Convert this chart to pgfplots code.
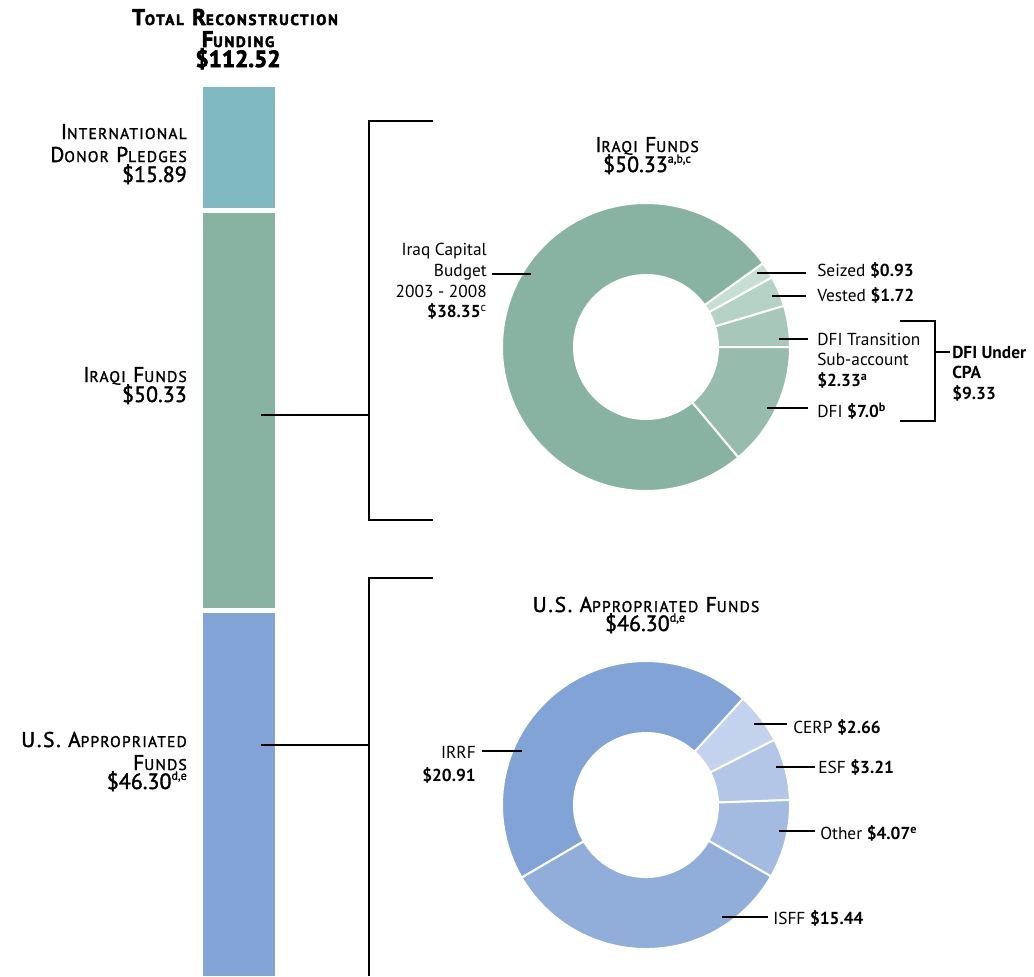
\documentclass[border=0pt]{standalone}
\usepackage{pgfplots}
\pgfplotsset{compat=1.18}
\usepackage{pgfplotstable}
\usepackage{fontspec}
\setmainfont{PT Sans}
\newfontfamily\titlefont{PT Sans}[LetterSpace=8, FakeBold=1.6]
\newfontfamily\amtfont{PT Sans}[FakeBold=1.6]
\newfontfamily\heavyfont{PT Sans}[LetterSpace=12, BoldFeatures={FakeBold=3}]
\newfontfamily\heavyamt{PT Sans}[BoldFeatures={FakeBold=3}]

\definecolor{cIntl}{RGB}{129,185,193}
\definecolor{cIraq}{RGB}{136,179,162}
\definecolor{cUS}{RGB}{130,163,214}
\definecolor{cDFI}{RGB}{151,188,174}
\definecolor{cDFIT}{RGB}{166,199,186}
\definecolor{cVest}{RGB}{181,210,198}
\definecolor{cSeiz}{RGB}{198,222,211}
\definecolor{cISFF}{RGB}{145,173,218}
\definecolor{cOther}{RGB}{163,186,225}
\definecolor{cESF}{RGB}{179,198,231}
\definecolor{cCERP}{RGB}{196,211,237}

% Iraqi funds (billions $), counter-clockwise from 0 deg
\pgfplotstableread{
value color
2.33 cDFIT
1.72 cVest
0.93 cSeiz
38.35 cIraq
7.0 cDFI
}\iraqitab
% U.S. appropriated funds
\pgfplotstableread{
value color
3.21 cESF
2.66 cCERP
20.91 cUS
15.44 cISFF
4.07 cOther
}\ustab

\newcommand\donut[4]{%
  \pgfplotstablegetrowsof{#1}%
  \pgfmathtruncatemacro\nr{\pgfplotsretval-1}%
  \def\tot{0}%
  \pgfplotsforeachungrouped \i in {0,...,\nr}{%
    \pgfplotstablegetelem{\i}{value}\of{#1}%
    \pgfmathsetmacro\tot{\tot+\pgfplotsretval}}%
  \def\acc{0}%
  \pgfplotsforeachungrouped \i in {0,...,\nr}{%
    \pgfplotstablegetelem{\i}{value}\of{#1}\let\val\pgfplotsretval
    \pgfplotstablegetelem{\i}{color}\of{#1}\let\col\pgfplotsretval
    \pgfmathsetmacro\aA{#4+\acc/\tot*360}%
    \pgfmathsetmacro\acc{\acc+\val}%
    \pgfmathsetmacro\aB{#4+\acc/\tot*360}%
    \edef\tmp{\noexpand\fill[fill=\col,draw=white,line width=1.5pt] (axis cs:#2,#3) ++(\aA:108pt) arc[start angle=\aA,end angle=\aB,radius=108pt] -- ++(\aB:-54pt) arc[start angle=\aB,end angle=\aA,radius=54pt] -- cycle;}%
    \tmp}}

\newcommand\lbl{\fontsize{13}{15.75}\selectfont}
\newcommand\ttl{\titlefont\fontsize{16}{19}\selectfont}
\newcommand\amt{\amtfont\fontsize{16.5}{19}\selectfont}
\newcommand\smc[1]{{\fontsize{11.6}{14}\selectfont #1}}
\newcommand\smcb[1]{{\fontsize{11.2}{13}\selectfont #1}}
\newcommand\sups[1]{\raisebox{0.42em}{\fontsize{9}{9}\selectfont #1}}

\begin{document}
\begin{tikzpicture}
% left stacked bar
\begin{axis}[name=bar, at={(0,0)}, anchor=south west, scale only axis,
  width=775.5pt, height=732pt, xmin=0, xmax=1034, ymin=-10.566, ymax=112.2,
  y dir=reverse, hide axis, ybar stacked, bar width=77]
\addplot[fill=cIntl, draw=white, line width=3.75pt] coordinates {(239,15.89)};
\addplot[fill=cIraq, draw=white, line width=3.75pt] coordinates {(239,50.33)};
\addplot[fill=cUS, draw=white, line width=3.75pt] coordinates {(239,46.30)};
\end{axis}
\begin{axis}[name=main, at={(0,0)}, anchor=south west, scale only axis,
  width=775.5pt, height=732pt, xmin=0, xmax=1034, ymin=0, ymax=976,
  y dir=reverse, hide axis, clip=false]
\donut{\iraqitab}{646}{347}{0}
\donut{\ustab}{646}{805}{2}
% brackets
\draw[line width=1.5pt] (axis cs:433,121) -- (axis cs:369,121) -- (axis cs:369,520) -- (axis cs:433,520);
\draw[line width=1.2pt] (axis cs:261,415) -- (axis cs:369,415);
\draw[line width=1.5pt] (axis cs:433,578) -- (axis cs:369,578) -- (axis cs:369,976);
\draw[line width=1.2pt] (axis cs:261,745) -- (axis cs:369,745);
\draw[line width=1.5pt] (axis cs:900,321) -- (axis cs:935,321) -- (axis cs:935,421) -- (axis cs:900,421);
\draw[line width=1.1pt] (axis cs:935,352) -- (axis cs:950,352);
% leaders
\draw[line width=1.1pt] (axis cs:492,274) -- (axis cs:531,274);
\draw[line width=1.1pt] (axis cs:757,273) -- (axis cs:806,273);
\draw[line width=1.1pt] (axis cs:772,296) -- (axis cs:806,296);
\draw[line width=1.1pt] (axis cs:779,339) -- (axis cs:808,339);
\draw[line width=1.1pt] (axis cs:767,408) -- (axis cs:808,408);
\draw[line width=1.1pt] (axis cs:482,751) -- (axis cs:522,751);
\draw[line width=1.1pt] (axis cs:754,724) -- (axis cs:787,724);
\draw[line width=1.1pt] (axis cs:776,767) -- (axis cs:815,767);
\draw[line width=1.1pt] (axis cs:779,831) -- (axis cs:815,831);
\draw[line width=1.1pt] (axis cs:722,917) -- (axis cs:768,917);
% titles, left
\node[anchor=base, inner sep=0] at (axis cs:235,25) {\heavyfont\bfseries\fontsize{17}{19}\selectfont T\smcb{OTAL} R\smcb{ECONSTRUCTION}};
\node[anchor=base, inner sep=0] at (axis cs:238,47) {\heavyfont\bfseries\fontsize{17}{19}\selectfont F\smcb{UNDING}};
\node[anchor=base, inner sep=0] at (axis cs:238,67) {\heavyamt\bfseries\fontsize{17.5}{19}\selectfont \$112.52};
\node[anchor=base east, inner sep=0] at (axis cs:187,139) {\ttl I\smc{NTERNATIONAL}};
\node[anchor=base east, inner sep=0] at (axis cs:187,162) {\ttl D\smc{ONOR} P\smc{LEDGES}};
\node[anchor=base east, inner sep=0] at (axis cs:187,182) {\amt \$15.89};
\node[anchor=base east, inner sep=0] at (axis cs:187,382) {\ttl I\smc{RAQI} F\smc{UNDS}};
\node[anchor=base east, inner sep=0] at (axis cs:187,402) {\amt \$50.33};
\node[anchor=base east, inner sep=0] at (axis cs:187,747) {\ttl U.S. A\smc{PPROPRIATED}};
\node[anchor=base east, inner sep=0] at (axis cs:187,770) {\ttl F\smc{UNDS}};
\node[anchor=base east, inner sep=0] at (axis cs:187,789) {\amt \$46.30\sups{d,e}};
% donut titles
\node[anchor=base, inner sep=0] at (axis cs:647,152) {\ttl I\smc{RAQI} F\smc{UNDS}};
\node[anchor=base, inner sep=0] at (axis cs:647,172) {\amt \$50.33\sups{a,b,c}};
\node[anchor=base, inner sep=0] at (axis cs:646,612) {\ttl U.S. A\smc{PPROPRIATED} F\smc{UNDS}};
\node[anchor=base, inner sep=0] at (axis cs:645,631) {\amt \$46.30\sups{d,e}};
% Iraqi labels
\node[anchor=base east, inner sep=0] at (axis cs:487,255) {\lbl Iraq Capital};
\node[anchor=base east, inner sep=0] at (axis cs:487,276) {\lbl Budget};
\node[anchor=base east, inner sep=0] at (axis cs:487,297) {\lbl 2003 - 2008};
\node[anchor=base east, inner sep=0] at (axis cs:487,317) {\lbl\textbf{\$38.35}\textsuperscript{c}};
\node[anchor=base west, inner sep=0] at (axis cs:817,276) {\lbl Seized \textbf{\$0.93}};
\node[anchor=base west, inner sep=0] at (axis cs:817,301) {\lbl Vested \textbf{\$1.72}};
\node[anchor=base west, inner sep=0] at (axis cs:817,345) {\lbl DFI Transition};
\node[anchor=base west, inner sep=0] at (axis cs:817,365) {\lbl Sub-account};
\node[anchor=base west, inner sep=0] at (axis cs:817,386) {\lbl\textbf{\$2.33}\textsuperscript{\bfseries a}};
\node[anchor=base west, inner sep=0] at (axis cs:817,417) {\lbl DFI \textbf{\$7.0}\textsuperscript{\bfseries b}};
\node[anchor=base west, inner sep=0] at (axis cs:952,358) {\lbl\bfseries DFI Under};
\node[anchor=base west, inner sep=0] at (axis cs:952,378.5) {\lbl\bfseries CPA};
\node[anchor=base west, inner sep=0] at (axis cs:952,399.5) {\lbl\bfseries \$9.33};
% US labels
\node[anchor=base east, inner sep=0] at (axis cs:476,758) {\lbl IRRF};
\node[anchor=base east, inner sep=0] at (axis cs:476,781) {\lbl\bfseries \$20.91};
\node[anchor=base west, inner sep=0] at (axis cs:793,733) {\lbl CERP \textbf{\$2.66}};
\node[anchor=base west, inner sep=0] at (axis cs:818,773) {\lbl ESF \textbf{\$3.21}};
\node[anchor=base west, inner sep=0] at (axis cs:820,839) {\lbl Other \textbf{\$4.07}\textsuperscript{\bfseries e}};
\node[anchor=base west, inner sep=0] at (axis cs:773,924) {\lbl ISFF \textbf{\$15.44}};
\end{axis}
\pgfresetboundingbox
\path (main.south west) rectangle (main.north east);
\end{tikzpicture}
\end{document}
